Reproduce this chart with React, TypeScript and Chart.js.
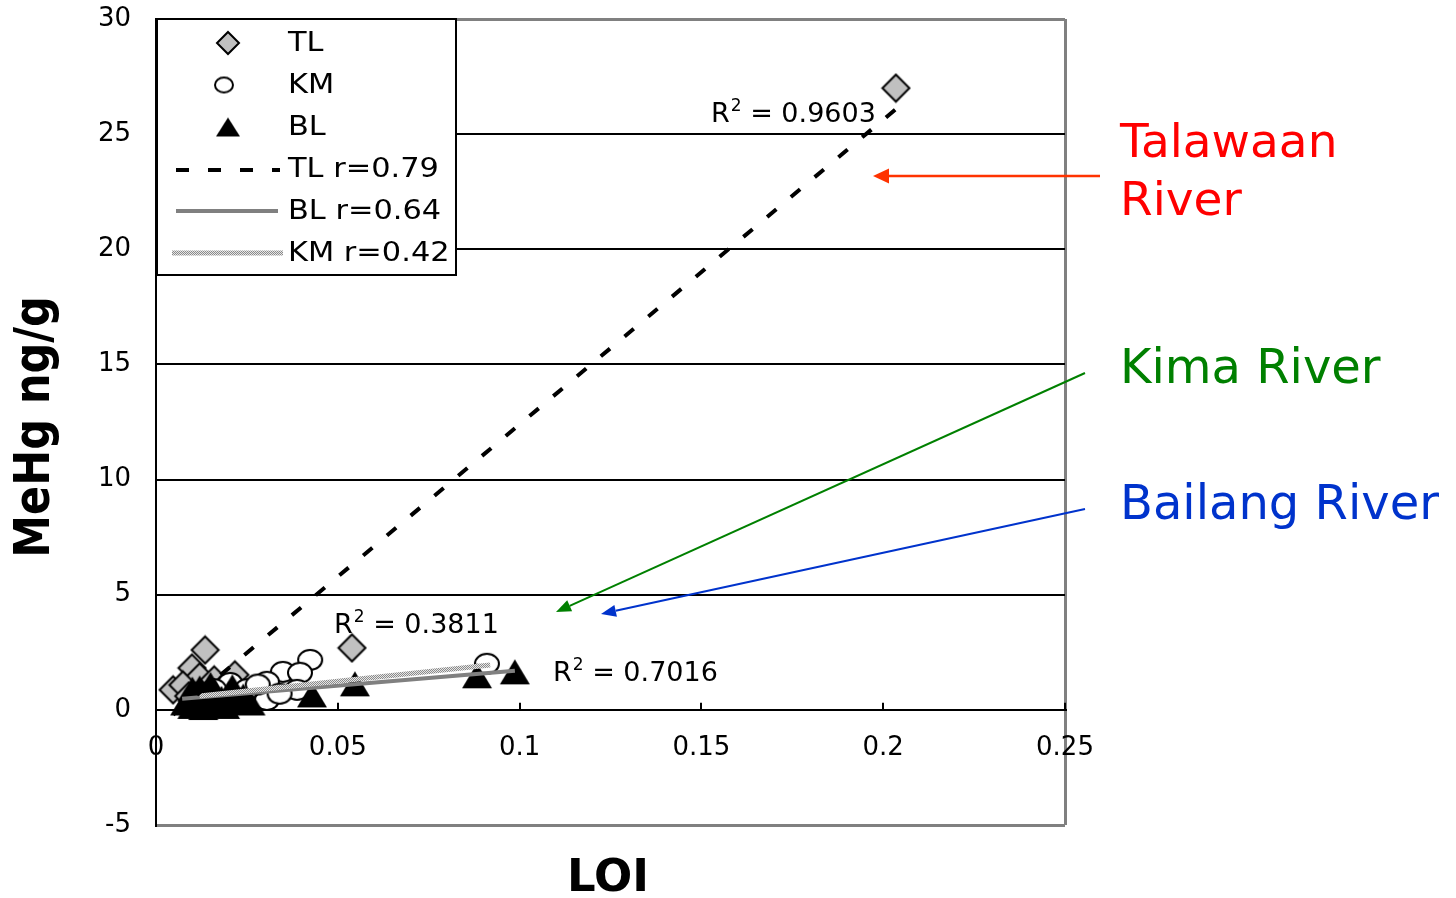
import React, { useEffect, useRef } from "react";
import { Chart, registerables } from "chart.js";

Chart.register(...registerables);

const FONT = "'DejaVu Sans', Verdana, sans-serif";

// ---- data ----
const xTickLabels = ["0", "0.05", "0.1", "0.15", "0.2", "0.25"];
const yTickValues = [-5, 0, 5, 10, 15, 20, 25, 30];
const yTickLabels = ["-5", "0", "5", "10", "15", "20", "25", "30"];

const tlX = [0.2035, 0.0539, 0.0135, 0.0099, 0.0217, 0.0047, 0.012, 0.016, 0.0074, 0.009, 0.018, 0.011];
const tlY = [27.0, 2.69, 2.6, 1.82, 1.52, 0.87, 1.43, 1.3, 1.08, 0.6, 0.9, 0.4];

const kmX = [0.0424, 0.091, 0.0349, 0.0396, 0.0305, 0.0388, 0.0305, 0.0204, 0.012, 0.016, 0.025, 0.028, 0.034, 0.022];
const kmY = [2.17, 2.0, 1.65, 1.61, 1.22, 0.87, 0.43, 1.17, 0.6, 0.9, 0.9, 1.1, 0.7, 0.5];

const blX = [0.0987, 0.0883, 0.0547, 0.0429, 0.008, 0.009, 0.01, 0.011, 0.012, 0.013, 0.014, 0.015, 0.016, 0.017, 0.018, 0.019, 0.02, 0.021, 0.022, 0.024, 0.026, 0.012, 0.015, 0.01];
const blY = [1.65, 1.48, 1.13, 0.65, 0.3, 0.5, 0.15, 0.7, 0.4, 0.1, 0.6, 0.3, 0.85, 0.2, 0.5, 0.15, 0.7, 1.0, 0.35, 0.6, 0.3, 0.95, 1.1, 0.9];

const tlTrendX = [0.0047, 0.2035];
const tlTrendY = [-0.21, 26.09];
const blTrendX = [0.0072, 0.0987];
const blTrendY = [0.48, 1.7];
const kmTrendX = [0.012, 0.0919];
const kmTrendY = [0.6, 1.95];

const r2Labels = ["0.9603", "0.3811", "0.7016"];

const pts = (xs: number[], ys: number[]) => xs.map((x, i) => ({ x, y: ys[i] }));

function makeCanvas(w: number, h: number) {
  const c = document.createElement("canvas");
  c.width = w;
  c.height = h;
  return c;
}

function diamondImg(half: number) {
  const s = Math.ceil(half * 2 + 4);
  const c = makeCanvas(s, s);
  const g = c.getContext("2d")!;
  const m = s / 2;
  g.beginPath();
  g.moveTo(m, m - half);
  g.lineTo(m + half, m);
  g.lineTo(m, m + half);
  g.lineTo(m - half, m);
  g.closePath();
  g.fillStyle = "#c0c0c0";
  g.fill();
  g.lineWidth = 2;
  g.strokeStyle = "#000";
  g.stroke();
  return c;
}

function ellipseImg(rx: number, ry: number) {
  const w = Math.ceil(rx * 2 + 4);
  const h = Math.ceil(ry * 2 + 4);
  const c = makeCanvas(w, h);
  const g = c.getContext("2d")!;
  g.beginPath();
  g.ellipse(w / 2, h / 2, rx, ry, 0, 0, Math.PI * 2);
  g.fillStyle = "#fff";
  g.fill();
  g.lineWidth = 2;
  g.strokeStyle = "#000";
  g.stroke();
  return c;
}

function triangleImg(w: number, h: number) {
  const c = makeCanvas(w + 2, h + 2);
  const g = c.getContext("2d")!;
  g.beginPath();
  g.moveTo((w + 2) / 2, 1);
  g.lineTo(w + 1, h + 1);
  g.lineTo(1, h + 1);
  g.closePath();
  g.fillStyle = "#000";
  g.fill();
  return c;
}

function stipplePattern(ctx: CanvasRenderingContext2D) {
  const c = makeCanvas(2, 2);
  const g = c.getContext("2d")!;
  g.fillStyle = "#e6e6e6";
  g.fillRect(0, 0, 2, 2);
  g.fillStyle = "#8a8a8a";
  g.fillRect(0, 0, 1, 1);
  g.fillRect(1, 1, 1, 1);
  return ctx.createPattern(c, "repeat")!;
}

function arrow(
  ctx: CanvasRenderingContext2D,
  x1: number, y1: number, x2: number, y2: number,
  color: string, lw: number, headLen: number, headW: number
) {
  const a = Math.atan2(y2 - y1, x2 - x1);
  const bx = x2 - Math.cos(a) * headLen;
  const by = y2 - Math.sin(a) * headLen;
  ctx.save();
  ctx.strokeStyle = color;
  ctx.fillStyle = color;
  ctx.lineWidth = lw;
  ctx.beginPath();
  ctx.moveTo(x1, y1);
  ctx.lineTo(bx, by);
  ctx.stroke();
  ctx.beginPath();
  ctx.moveTo(x2, y2);
  ctx.lineTo(bx + Math.sin(a) * headW / 2, by - Math.cos(a) * headW / 2);
  ctx.lineTo(bx - Math.sin(a) * headW / 2, by + Math.cos(a) * headW / 2);
  ctx.closePath();
  ctx.fill();
  ctx.restore();
}

function drawR2(ctx: CanvasRenderingContext2D, x: number, baseline: number, value: string) {
  ctx.save();
  ctx.fillStyle = "#000";
  ctx.textAlign = "left";
  ctx.textBaseline = "alphabetic";
  ctx.font = `27px ${FONT}`;
  ctx.fillText("R", x, baseline);
  const w1 = ctx.measureText("R").width;
  ctx.font = `17px ${FONT}`;
  ctx.fillText("2", x + w1 + 1, baseline - 11);
  const w2 = ctx.measureText("2").width;
  ctx.font = `27px ${FONT}`;
  ctx.fillText(" = " + value, x + w1 + 1 + w2, baseline);
  ctx.restore();
}

function stretchedText(ctx: CanvasRenderingContext2D, text: string, x: number, y: number, sx: number) {
  ctx.save();
  ctx.translate(x, y);
  ctx.scale(sx, 1);
  ctx.fillText(text, 0, 0);
  ctx.restore();
}

export default function App() {
  const ref = useRef<HTMLCanvasElement | null>(null);

  useEffect(() => {
    const canvas = ref.current!;
    const ctx0 = canvas.getContext("2d")!;
    const dia = diamondImg(13.5);
    const ell = ellipseImg(12, 10);
    const tri = triangleImg(30, 25);
    const diaS = diamondImg(11);
    const ellS = ellipseImg(9, 7.5);
    const triS = triangleImg(24, 19);
    const pattern = stipplePattern(ctx0);

    const overlay = {
      id: "overlay",
      afterDraw(chart: any) {
        const ctx: CanvasRenderingContext2D = chart.ctx;
        const xs = chart.scales.x;
        const ys = chart.scales.y;
        const y0 = ys.getPixelForValue(0);
        // upward tick marks on x axis
        ctx.save();
        ctx.strokeStyle = "#000";
        ctx.lineWidth = 2;
        [0.05, 0.1, 0.15, 0.2, 0.25].forEach((v) => {
          const px = Math.round(xs.getPixelForValue(v));
          ctx.beginPath();
          ctx.moveTo(px, y0);
          ctx.lineTo(px, y0 - 7);
          ctx.stroke();
        });
        ctx.restore();

        // R² labels
        drawR2(ctx, 711, 122, r2Labels[0]);
        drawR2(ctx, 334, 633, r2Labels[1]);
        drawR2(ctx, 553, 681, r2Labels[2]);

        // legend
        ctx.save();
        ctx.fillStyle = "#fff";
        ctx.fillRect(157, 19, 299, 256);
        ctx.strokeStyle = "#000";
        ctx.lineWidth = 2;
        ctx.strokeRect(157, 19, 299, 256);
        const rows = [43, 85, 127, 169, 211, 253];
        const mx = 228;
        ctx.drawImage(diaS, mx - diaS.width / 2, rows[0] - diaS.height / 2);
        ctx.drawImage(ellS, mx - ellS.width / 2 - 4, rows[1] - ellS.height / 2);
        ctx.drawImage(triS, mx - triS.width / 2, rows[2] - triS.height / 2);
        ctx.lineWidth = 4;
        ctx.strokeStyle = "#000";
        ctx.setLineDash([13, 19]);
        ctx.beginPath();
        ctx.moveTo(176, rows[3] + 1);
        ctx.lineTo(280, rows[3] + 1);
        ctx.stroke();
        ctx.setLineDash([]);
        ctx.strokeStyle = "#808080";
        ctx.beginPath();
        ctx.moveTo(176, rows[4]);
        ctx.lineTo(278, rows[4]);
        ctx.stroke();
        ctx.strokeStyle = pattern;
        ctx.lineWidth = 5;
        ctx.beginPath();
        ctx.moveTo(172, rows[5]);
        ctx.lineTo(283, rows[5]);
        ctx.stroke();
        ctx.fillStyle = "#000";
        ctx.font = `26px ${FONT}`;
        ctx.textAlign = "left";
        ctx.textBaseline = "middle";
        const legendTexts = ["TL", "KM", "BL", "TL r=0.79", "BL r=0.64", "KM r=0.42"];
        legendTexts.forEach((t, i) => stretchedText(ctx, t, 288, rows[i] + 1, 1.17));
        ctx.restore();

        // axis titles
        ctx.save();
        ctx.fillStyle = "#000";
        ctx.textAlign = "center";
        ctx.textBaseline = "middle";
        ctx.font = `bold 45px ${FONT}`;
        ctx.fillText("LOI", 608, 879);
        ctx.translate(36, 427);
        ctx.rotate(-Math.PI / 2);
        ctx.scale(1, 1.15);
        ctx.font = `bold 43px ${FONT}`;
        ctx.fillText("MeHg ng/g", 0, 0);
        ctx.restore();

        // river annotations
        ctx.save();
        ctx.textAlign = "left";
        ctx.textBaseline = "alphabetic";
        ctx.font = `47px ${FONT}`;
        ctx.fillStyle = "#ff0000";
        ctx.fillText("Talawaan", 1120, 157);
        ctx.fillText("River", 1120, 215);
        ctx.font = `48px ${FONT}`;
        ctx.fillStyle = "#008000";
        ctx.fillText("Kima River", 1120, 383);
        ctx.fillStyle = "#0033cc";
        ctx.fillText("Bailang River", 1120, 519);
        ctx.restore();

        arrow(ctx, 1100, 176, 873, 176, "#ff3300", 2.5, 16, 15);
        arrow(ctx, 1085, 373, 556, 612, "#008000", 2, 15, 12);
        arrow(ctx, 1085, 509, 601, 614, "#0033cc", 2, 15, 12);
      },
    };

    const chart = new Chart(canvas, {
      type: "scatter",
      data: {
        datasets: [
          {
            label: "TL r=0.79",
            data: pts(tlTrendX, tlTrendY),
            showLine: true,
            borderColor: "#000",
            borderWidth: 4,
            borderDash: [12, 19],
            pointRadius: 0,
            order: 0,
          },
          {
            label: "KM r=0.42",
            data: pts(kmTrendX, kmTrendY),
            showLine: true,
            borderColor: pattern as any,
            borderWidth: 5,
            pointRadius: 0,
            order: 0,
          },
          {
            label: "BL r=0.64",
            data: pts(blTrendX, blTrendY),
            showLine: true,
            borderColor: "#808080",
            borderWidth: 4,
            pointRadius: 0,
            order: 0,
          },
          {
            label: "BL",
            data: pts(blX, blY),
            pointStyle: tri as any,
            pointRadius: 12,
            order: 1,
          },
          {
            label: "KM",
            data: pts(kmX, kmY),
            pointStyle: ell as any,
            pointRadius: 12,
            order: 2,
          },
          {
            label: "TL",
            data: pts(tlX, tlY),
            pointStyle: dia as any,
            pointRadius: 12,
            order: 3,
          },
        ],
      },
      options: {
        responsive: false,
        maintainAspectRatio: false,
        animation: false,
        devicePixelRatio: 1,
        events: [],
        layout: { padding: { left: 0, top: 19, right: 391, bottom: 73 } },
        plugins: { legend: { display: false }, tooltip: { enabled: false }, title: { display: false } },
        scales: {
          x: {
            type: "linear",
            min: 0,
            max: 0.25,
            position: { y: 0 } as any,
            afterFit: (s: any) => {
              s.height = 0;
            },
            ticks: {
              stepSize: 0.05,
              autoSkip: false,
              maxRotation: 0,
              padding: 23,
              color: "#000",
              font: { family: FONT, size: 26 },
              callback: (_v: any, i: number) => xTickLabels[i] ?? "",
            },
            grid: {
              drawTicks: false,
              lineWidth: 3,
              color: (c: any) =>
                c.tick && Math.abs(c.tick.value - 0.25) < 1e-9 ? "#808080" : "rgba(0,0,0,0)",
            },
            border: { display: true, color: "#000", width: 2 },
          },
          y: {
            type: "linear",
            min: -5,
            max: 30,
            position: "left",
            afterFit: (s: any) => {
              s.width = 156;
            },
            ticks: {
              stepSize: 5,
              padding: 0,
              color: "#000",
              font: { family: FONT, size: 26 },
              callback: (v: any) => {
                const i = yTickValues.indexOf(Number(v));
                return i >= 0 ? yTickLabels[i] : "";
              },
            },
            grid: {
              drawTicks: true,
              tickLength: 25,
              tickColor: "rgba(0,0,0,0)",
              color: (c: any) =>
                c.tick && (c.tick.value === 30 || c.tick.value === -5) ? "#808080" : "#000",
              lineWidth: (c: any) =>
                c.tick && (c.tick.value === 30 || c.tick.value === -5) ? 3 : 2,
            },
            border: { display: true, color: "#000", width: 2 },
          },
        },
      },
      plugins: [overlay],
    } as any);

    return () => chart.destroy();
  }, []);

  return (
    <div style={{ position: "fixed", left: 0, top: 0, width: 1456, height: 898, background: "#fff" }}>
      <canvas
        ref={ref}
        width={1456}
        height={898}
        style={{ width: "1456px", height: "898px", display: "block" }}
      />
    </div>
  );
}
